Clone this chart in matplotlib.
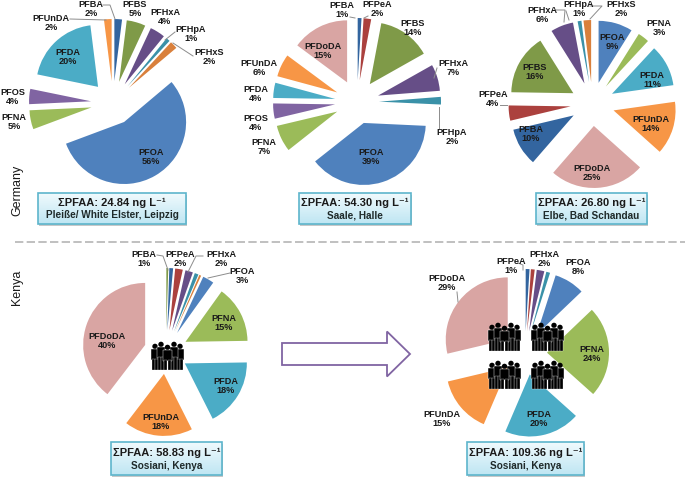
import numpy as np
import matplotlib
matplotlib.use("Agg")
import matplotlib.pyplot as plt
from matplotlib.patches import Rectangle, Circle, FancyArrow

plt.rcParams['font.family'] = ['Liberation Sans', 'DejaVu Sans']

names1 = ['PFBA', 'PFBS', 'PFHxA', 'PFHpA', 'PFHxS', 'PFOA', 'PFNA', 'PFOS', 'PFDA', 'PFUnDA']
vals1 = [2, 5, 4, 1, 2, 56, 5, 4, 20, 2]

names2 = ['PFBA', 'PFPeA', 'PFBS', 'PFHxA', 'PFHpA', 'PFOA', 'PFNA', 'PFOS', 'PFDA', 'PFUnDA', 'PFDoDA']
vals2 = [1, 2, 14, 7, 2, 39, 7, 4, 4, 6, 15]

names3 = ['PFOA', 'PFNA', 'PFDA', 'PFUnDA', 'PFDoDA', 'PFBA', 'PFPeA', 'PFBS', 'PFHxA', 'PFHpA', 'PFHxS']
vals3 = [9, 3, 11, 14, 25, 10, 4, 16, 6, 1, 2]

names4 = ['PFBS', 'PFBA', 'PFPeA', 'PFHxA', 'PFHpA', 'PFHxS', 'PFOA', 'PFNA', 'PFDA', 'PFUnDA', 'PFDoDA']
vals4 = [0.5, 1, 2, 2, 1, 0.5, 3, 15, 18, 18, 40]

names5 = ['PFBA', 'PFPeA', 'PFHxA', 'PFHpA', 'PFOA', 'PFNA', 'PFDA', 'PFUnDA', 'PFDoDA']
vals5 = [1, 1, 2, 1, 8, 24, 20, 15, 29]

colors = {'PFBA': '#33659f', 'PFPeA': '#ab413e', 'PFBS': '#7f9a48', 'PFHxA': '#664e87',
          'PFHpA': '#3a91a8', 'PFHxS': '#d9803c', 'PFOA': '#4f81bd', 'PFNA': '#9bbb59',
          'PFOS': '#8064a2', 'PFDA': '#4bacc6', 'PFUnDA': '#f79646', 'PFDoDA': '#d9a5a3'}

# label layouts, picture pixels from the top left
labels1 = {'PFBA': (91, 9), 'PFBS': (135, 9), 'PFHxA': (165, 17), 'PFHpA': (191, 34), 'PFHxS': (209, 57),
           'PFOA': (151, 157), 'PFNA': (14, 122), 'PFOS': (13, 97), 'PFDA': (68, 57), 'PFUnDA': (51, 23)}
labels2 = {'PFBA': (342, 10), 'PFPeA': (377, 9), 'PFBS': (413, 28), 'PFHxA': (453, 68), 'PFHpA': (452, 137),
           'PFOA': (371, 157), 'PFNA': (264, 147), 'PFOS': (256, 123), 'PFDA': (256, 94), 'PFUnDA': (259, 68),
           'PFDoDA': (323, 51)}
labels3 = {'PFOA': (612, 42), 'PFNA': (659, 28), 'PFDA': (652, 80), 'PFUnDA': (651, 124), 'PFDoDA': (592, 173),
           'PFBA': (531, 134), 'PFPeA': (493, 99), 'PFBS': (535, 72), 'PFHxA': (542, 15), 'PFHpA': (579, 9),
           'PFHxS': (621, 9)}
labels4 = {'PFBA': (144, 259), 'PFPeA': (180, 259), 'PFHxA': (221, 259), 'PFOA': (242, 276), 'PFNA': (224, 323),
           'PFDA': (226, 386), 'PFUnDA': (161, 422), 'PFDoDA': (107, 341)}
labels5 = {'PFPeA': (511, 266), 'PFHxA': (544, 259), 'PFOA': (578, 267), 'PFNA': (592, 354), 'PFDA': (539, 419),
           'PFUnDA': (442, 419), 'PFDoDA': (447, 283)}

leaders = [
    [(70, 19), (106, 20)], [(103, 5), (110, 5), (115, 19)], [(165, 40), (175, 32)], [(173, 43), (193, 56)],
    [(350, 17), (355, 18)], [(364, 18), (368, 16)], [(437, 68), (434, 78)], [(439, 107), (439, 128)],
    [(500, 105), (507, 105)],
    [(556, 10), (565, 10), (564, 22)], [(566, 11), (569, 20)], [(590, 6), (602, 6), (590, 19)],
    [(157, 255), (163, 256), (168, 270)], [(203, 256), (196, 256), (188, 272)], [(230, 273), (208, 278)],
    [(518, 263), (523, 265), (523, 270)], [(457, 292), (458, 302)],
]

fig = plt.figure(figsize=(6.85, 4.8), dpi=100)
ax = fig.add_axes([0, 0, 1, 1])


def py(y):
    return 480 - y


def draw_pie(names, vals, labels, cx, cy):
    cols = [colors[n] for n in names]
    ax.pie(vals, colors=cols, center=(cx, py(cy)), radius=62, startangle=90, counterclock=False,
           explode=[22] * len(vals), wedgeprops={'linewidth': 0})
    for n, v in zip(names, vals):
        if n in labels:
            lx, ly = labels[n]
            ax.text(lx, py(ly), f"{n}\n{v}%", ha='center', va='center', fontsize=6.6, fontweight='bold',
                    color='#1a1a1a', linespacing=1.1, zorder=6)


def draw_box(x0, x1, y0, y1, line1, line2):
    grad = np.linspace(0, 1, 40).reshape(-1, 1)
    cm = matplotlib.colors.LinearSegmentedColormap.from_list('b', ['#f0fafd', '#bfe6f3'])
    ax.add_patch(Rectangle((x0 + 1.5, py(y1) - 1.5), x1 - x0, y1 - y0, fc='#c8c8c8', ec='none', zorder=3))
    ax.imshow(grad, extent=(x0, x1, py(y1), py(y0)), cmap=cm, aspect='auto', zorder=4)
    ax.add_patch(Rectangle((x0, py(y1)), x1 - x0, y1 - y0, fc='none', ec='#5db5cc', lw=1.2, zorder=5))
    xc = (x0 + x1) / 2
    ax.text(xc, py(y0 + (y1 - y0) * 0.33), line1, ha='center', va='center', fontsize=8, fontweight='bold',
            color='#1a1a1a', zorder=6)
    ax.text(xc, py(y0 + (y1 - y0) * 0.72), line2, ha='center', va='center', fontsize=7.2, fontweight='bold',
            color='#1f2a2a', zorder=6)


def draw_people(x0, y0):
    # five standing figures, back row first
    for dx, dy, w in [(4, 3, 8), (29, 3, 8), (10, 1, 8), (23, 1, 8), (16.5, 4, 9)]:
        xc = x0 + dx
        top = y0 + dy
        ax.add_patch(Circle((xc, py(top + 2.4)), 2.7, fc='black', ec='none', zorder=5))
        ax.add_patch(Rectangle((xc - w / 2, py(top + 16)), w, 11, fc='black', ec='white', lw=0.3, zorder=5))
        for lx in (-w / 2 + 0.6, 0.3):
            ax.add_patch(Rectangle((xc + lx, py(y0 + 29)), w / 2 - 0.9, y0 + 29 - top - 15, fc='black',
                                   ec='white', lw=0.2, zorder=5))


draw_pie(names1, vals1, labels1, 113, 103)
draw_pie(names2, vals2, labels2, 357, 102)
draw_pie(names3, vals3, labels3, 592.5, 104)
draw_pie(names4, vals4, labels4, 166, 352)
draw_pie(names5, vals5, labels5, 525, 353)

for pts in leaders:
    xs = [p[0] for p in pts]
    ys = [py(p[1]) for p in pts]
    ax.plot(xs, ys, color='#8c8c8c', lw=0.7, zorder=5)

draw_box(38, 186, 193, 224, "ΣPFAA: 24.84 ng L⁻¹", "Pleiße/ White Elster, Leipzig")
draw_box(299, 411, 193, 224, "ΣPFAA: 54.30 ng L⁻¹", "Saale, Halle")
draw_box(536, 647, 193, 224, "ΣPFAA: 26.80 ng L⁻¹", "Elbe, Bad Schandau")
draw_box(111, 222, 442, 475, "ΣPFAA: 58.83 ng L⁻¹", "Sosiani, Kenya")
draw_box(467, 584, 442, 475, "ΣPFAA: 109.36 ng L⁻¹", "Sosiani, Kenya")

ax.plot([15, 685], [py(242), py(242)], color='#b5b5b5', lw=1.2, ls=(0, (5, 2)))
ax.text(17, py(190), "Germany", rotation=90, ha='center', va='center', fontsize=9, color='#1a1a1a')
ax.text(17, py(287), "Kenya", rotation=90, ha='center', va='center', fontsize=9, color='#1a1a1a')

ax.add_patch(FancyArrow(282, py(354), 128, 0, width=22, head_width=45, head_length=23,
                        length_includes_head=True, fc='white', ec='#8064a2', lw=1.3, zorder=3))

draw_people(151, 341)
draw_people(488, 322)
draw_people(531, 322)
draw_people(488, 360)
draw_people(531, 360)

ax.set_xlim(0, 685)
ax.set_ylim(0, 480)
ax.set_aspect('auto')
ax.axis('off')

fig.savefig('out.png', dpi=100)
